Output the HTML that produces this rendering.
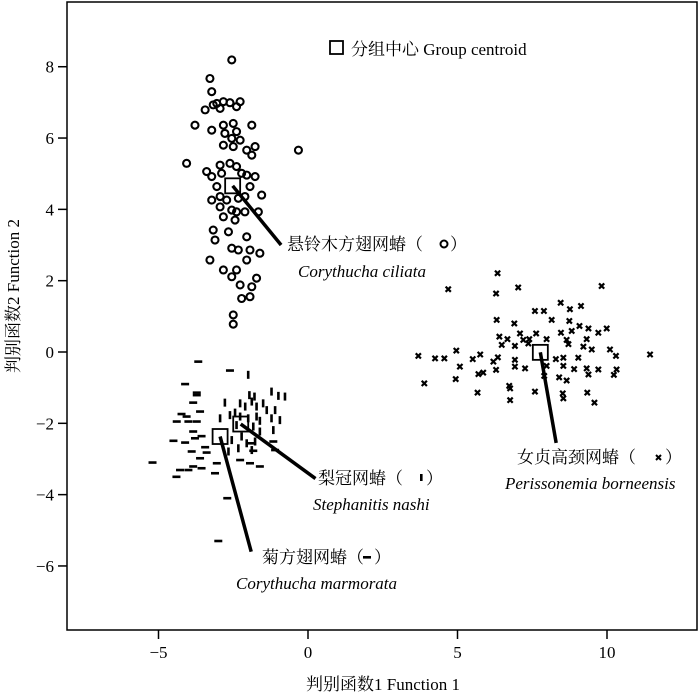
<!DOCTYPE html>
<html><head><meta charset="utf-8"><style>
html,body{margin:0;padding:0;background:#fff;}
svg text{font-family:"Liberation Serif","Noto Serif CJK SC",serif;fill:#000;}
</style></head><body>
<svg id="chart" width="700" height="695" viewBox="0 0 700 695" xmlns="http://www.w3.org/2000/svg">
<rect x="67" y="2" width="630" height="628" fill="none" stroke="#000" stroke-width="1.5"/>
<g id="xticks"></g>
<g id="yticks"></g>
<g id="marks"></g>
<g id="leaders"></g>
<text x="383" y="690" font-size="17" text-anchor="middle">判别函数1 Function 1</text>
<text transform="translate(19,296) rotate(-90)" font-size="17" text-anchor="middle">判别函数2 Function 2</text>
<rect x="330" y="41" width="13" height="13" fill="none" stroke="#000" stroke-width="1.8"/>
<text x="351" y="55" font-size="17">分组中心 Group centroid</text>
<g>
<text x="287" y="250" font-size="17">悬铃木方翅网蝽（</text>
<circle cx="444" cy="244" r="3.5" fill="none" stroke="#000" stroke-width="2"/>
<text x="450" y="250" font-size="17">）</text>
<text x="298" y="277" font-size="17" font-style="italic">Corythucha ciliata</text>
</g>
<g>
<text x="318" y="484" font-size="17">梨冠网蝽（</text>
<rect x="420" y="474" width="2.6" height="7" fill="#000"/>
<text x="426" y="484" font-size="17">）</text>
<text x="313" y="510" font-size="17" font-style="italic">Stephanitis nashi</text>
</g>
<g>
<text x="517" y="463" font-size="17">女贞高颈网蝽（</text>
<path d="M656,455L661,460M661,455L656,460" stroke="#000" stroke-width="2"/>
<text x="665" y="463" font-size="17">）</text>
<text x="505" y="489" font-size="17" font-style="italic">Perissonemia borneensis</text>
</g>
<g>
<text x="262" y="563" font-size="17">菊方翅网蝽（</text>
<rect x="363" y="556" width="8" height="2.6" fill="#000"/>
<text x="374" y="563" font-size="17">）</text>
<text x="236" y="589" font-size="17" font-style="italic">Corythucha marmorata</text>
</g>
</svg>
<script>
const xTicks=[-5,0,5,10];
const yTicks=[8,6,4,2,0,-2,-4,-6];
const ciliataX=[-2.55,-3.28,-3.22,-3.05,-2.83,-2.61,-2.27,-3.17,-3.44,-2.94,-2.39,-3.78,-3.22,-2.83,-2.50,-1.88,-2.78,-2.39,-2.55,-2.27,-2.83,-2.50,-2.05,-1.77,-1.88,-0.32,-4.06,-3.39,-2.94,-2.61,-2.39,-3.22,-3.05,-2.89,-2.22,-2.05,-1.77,-1.94,-1.55,-3.22,-2.94,-2.72,-2.33,-2.11,-2.94,-2.55,-2.39,-2.11,-1.66,-2.83,-2.44,-2.66,-3.17,-2.05,-3.11,-2.55,-2.33,-1.94,-1.61,-2.05,-3.28,-2.83,-2.39,-2.55,-1.72,-2.27,-1.88,-2.22,-1.94,-2.50,-2.50];
const ciliataY=[8.19,7.67,7.30,6.97,7.02,6.99,7.02,6.93,6.79,6.83,6.88,6.36,6.22,6.36,6.41,6.36,6.13,6.18,5.99,5.94,5.80,5.76,5.66,5.76,5.52,5.66,5.29,5.06,5.24,5.29,5.20,4.92,4.64,5.01,5.01,4.96,4.92,4.64,4.40,4.26,4.36,4.26,4.31,4.36,4.07,3.98,3.93,3.93,3.93,3.79,3.70,3.37,3.42,3.23,3.14,2.91,2.86,2.86,2.77,2.58,2.58,2.30,2.30,2.11,2.07,1.88,1.83,1.50,1.55,1.04,0.78];
const perisX=[6.34,4.69,6.29,7.03,9.82,8.45,8.76,9.13,7.59,7.89,6.31,6.90,8.15,8.74,7.09,7.63,8.46,8.82,9.08,9.38,9.71,9.99,6.40,6.67,7.20,7.40,7.98,8.65,9.32,6.48,6.92,7.37,8.71,9.21,9.49,10.10,10.30,11.44,3.69,4.25,4.56,4.96,5.51,5.76,6.35,6.20,6.92,8.29,8.54,9.04,5.08,6.29,6.92,7.26,7.98,8.54,8.90,9.32,9.71,10.32,5.70,5.86,7.90,8.40,9.38,10.23,4.94,3.89,6.73,6.76,8.65,5.67,7.59,8.52,9.34,6.76,8.54,9.58];
const perisY=[2.21,1.76,1.64,1.81,1.85,1.38,1.20,1.29,1.15,1.15,0.90,0.80,0.90,0.87,0.52,0.52,0.54,0.59,0.73,0.66,0.54,0.66,0.43,0.36,0.34,0.36,0.36,0.34,0.36,0.20,0.17,0.24,0.22,0.15,0.07,0.07,-0.11,-0.07,-0.11,-0.18,-0.18,0.04,-0.20,-0.07,-0.15,-0.27,-0.22,-0.20,-0.16,-0.16,-0.41,-0.50,-0.41,-0.46,-0.39,-0.39,-0.48,-0.46,-0.49,-0.49,-0.62,-0.58,-0.67,-0.71,-0.63,-0.64,-0.76,-0.88,-0.95,-1.02,-0.80,-1.14,-1.11,-1.16,-1.14,-1.35,-1.30,-1.42];
const marmX=[-3.67,-2.61,-4.11,-3.72,-3.72,-3.84,-3.61,-4.23,-4.06,-4.00,-4.39,-3.72,-3.84,-4.50,-4.11,-3.78,-3.56,-3.44,-3.89,-3.39,-3.61,-3.05,-3.84,-3.56,-4.28,-4.00,-3.11,-2.27,-1.83,-1.89,-1.94,-1.61,-1.10,-1.16,-5.20,-3.00,-4.40,-2.70];
const marmY=[-0.27,-0.52,-0.90,-1.14,-1.21,-1.42,-1.67,-1.74,-1.81,-1.95,-1.95,-1.95,-2.23,-2.49,-2.54,-2.42,-2.36,-2.67,-2.79,-2.82,-2.98,-3.12,-3.21,-3.26,-3.31,-3.31,-3.40,-3.03,-2.77,-2.56,-3.12,-3.21,-2.75,-2.51,-3.10,-5.30,-3.50,-4.10];
const stephX=[-2.00,-2.78,-1.96,-1.79,-1.22,-0.99,-0.77,-2.27,-2.10,-1.88,-1.72,-1.50,-1.38,-1.10,-2.94,-2.61,-2.44,-2.27,-2.00,-1.72,-1.61,-1.22,-0.94,-2.39,-1.83,-1.16,-1.61,-2.22,-2.05,-1.77,-2.33,-1.88,-2.55,-2.66];
const stephY=[-0.64,-1.42,-1.21,-1.25,-1.11,-1.23,-1.25,-1.44,-1.53,-1.39,-1.53,-1.44,-1.63,-1.63,-1.86,-1.77,-1.70,-1.81,-1.86,-1.81,-1.93,-1.86,-1.91,-2.05,-2.09,-2.19,-2.23,-2.37,-2.56,-2.51,-2.70,-2.75,-2.47,-2.79];
const centroidX=[-2.52,7.77,-2.94,-2.25];
const centroidY=[4.66,-0.01,-2.37,-2.02];
const leaderEndX=[-0.9,8.3,-1.9,0.25];
const leaderEndY=[3.0,-2.55,-5.6,-3.55];

const NS='http://www.w3.org/2000/svg';
const sx=v=>308+v*29.9;
const sy=v=>352-v*35.66;
function mk(tag,attrs,parent){const e=document.createElementNS(NS,tag);for(const k in attrs)e.setAttribute(k,attrs[k]);parent.appendChild(e);return e;}
const gx=document.getElementById('xticks'),gy=document.getElementById('yticks'),gm=document.getElementById('marks'),gl=document.getElementById('leaders');
xTicks.forEach(t=>{
  const l=mk('line',{x1:sx(t),x2:sx(t),y1:630,y2:639,stroke:'#000','stroke-width':1.5},gx);
  
  
  const tx=mk('text',{x:sx(t),y:658,'font-size':17,'text-anchor':'middle'},gx);
  tx.textContent=t<0?'\u2212'+(-t):String(t);
  
  
});
yTicks.forEach(t=>{
  const l=mk('line',{x1:58,x2:67,y1:sy(t),y2:sy(t),stroke:'#000','stroke-width':1.5},gy);
  
  
  const tx=mk('text',{x:54,y:sy(t)+6,'font-size':17,'text-anchor':'end'},gy);
  tx.textContent=t<0?'\u2212'+(-t):String(t);
  
  
});
ciliataX.forEach((v,i)=>{
  const c=mk('circle',{cx:sx(v),cy:sy(ciliataY[i]),r:3.5,fill:'none',stroke:'#000','stroke-width':2.1},gm);
  
  
});
perisX.forEach((v,i)=>{
  const x=sx(v),y=sy(perisY[i]);
  const p=mk('path',{d:`M${x-2.6},${y-2.6}L${x+2.6},${y+2.6}M${x+2.6},${y-2.6}L${x-2.6},${y+2.6}`,stroke:'#000','stroke-width':2.2},gm);
  
  
});
marmX.forEach((v,i)=>{
  const r=mk('rect',{x:sx(v)-4,y:sy(marmY[i])-1.3,width:8,height:2.6,fill:'#000'},gm);
  
  
});
stephX.forEach((v,i)=>{
  const r=mk('rect',{x:sx(v)-1.3,y:sy(stephY[i])-4,width:2.6,height:8,fill:'#000'},gm);
  
  
});
centroidX.forEach((v,i)=>{
  const l=mk('line',{x1:sx(v),y1:sy(centroidY[i]),x2:sx(leaderEndX[i]),y2:sy(leaderEndY[i]),stroke:'#000','stroke-width':3.5},gl);
  
  
  const r=mk('rect',{x:sx(v)-7.5,y:sy(centroidY[i])-7.5,width:15,height:15,fill:'none',stroke:'#000','stroke-width':1.8},gl);
  
  
});
</script>
</body></html>
